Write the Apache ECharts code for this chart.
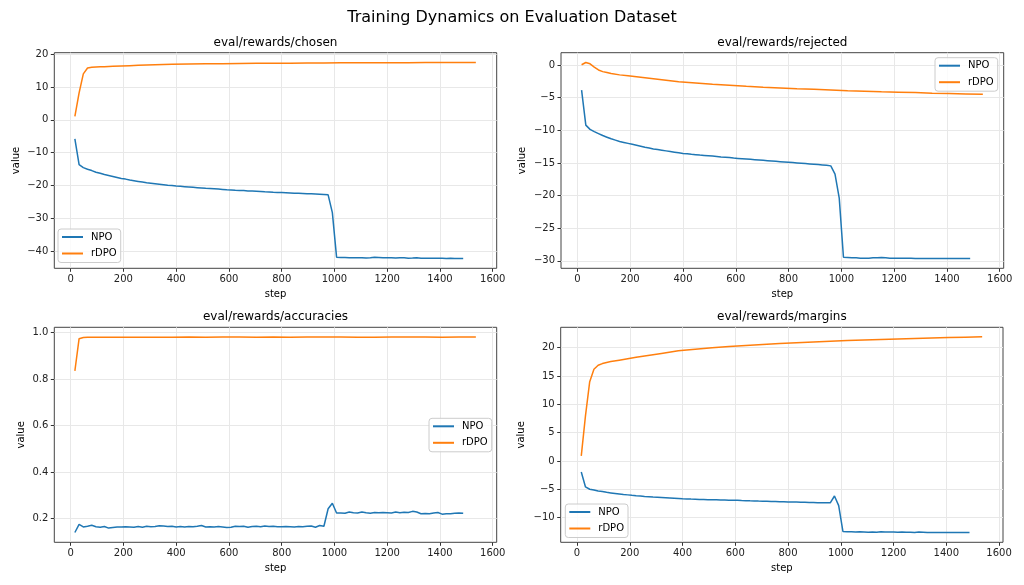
<!DOCTYPE html>
<html><head><meta charset="utf-8">
<script src="https://cdn.jsdelivr.net/npm/echarts@6/dist/echarts.min.js"></script>
<style>html,body{margin:0;padding:0;background:#fff}#c{width:1024px;height:585px}</style>
</head><body><div id="c"></div>
<script>
// ---------------- DATA ----------------
const npoSteps = [16,32,48,64,80,96,112,128,144,160,
176,192,208,224,240,256,272,288,304,320,
336,352,368,384,400,416,432,448,464,480,
496,512,528,544,560,576,592,608,624,640,
656,672,688,704,720,736,752,768,784,800,
816,832,848,864,880,896,912,928,944,960,
976,992,1008,1024,1040,1056,1072,1088,1104,1120,
1136,1152,1168,1184,1200,1216,1232,1248,1264,1280,
1296,1312,1328,1344,1360,1376,1392,1408,1424,1440,
1456,1472,1488];
const rdpoSteps = [16,32,48,64,80,96,112,128,160,192,224,256,320,384,448,512,576,640,704,768,832,896,960,1024,1088,1152,1216,1280,1344,1408,1472,1536];

const npoChosen = [-5.8,-13.7,-14.6,-15.1,-15.5,-16.0,-16.3,-16.7,-17.0,-17.3,
-17.6,-17.9,-18.1,-18.4,-18.6,-18.8,-19.0,-19.2,-19.35,-19.5,
-19.65,-19.8,-19.95,-20.05,-20.2,-20.3,-20.4,-20.5,-20.6,-20.7,
-20.8,-20.9,-20.95,-21.05,-21.15,-21.25,-21.35,-21.4,-21.5,-21.55,
-21.6,-21.7,-21.75,-21.8,-21.85,-21.95,-22.0,-22.1,-22.15,-22.2,
-22.25,-22.3,-22.4,-22.45,-22.5,-22.55,-22.6,-22.65,-22.7,-22.8,
-22.9,-28.3,-41.9,-42.0,-42.0,-42.05,-42.1,-42.1,-42.05,-42.15,
-42.1,-41.95,-42.0,-42.05,-42.1,-42.1,-42.15,-42.1,-42.1,-42.2,
-42.15,-42.05,-42.2,-42.2,-42.25,-42.2,-42.2,-42.25,-42.3,-42.25,
-42.3,-42.3,-42.3];
const rdpoChosen = [1.0,8.2,14.0,15.8,16.0,16.1,16.15,16.2,16.3,16.4,16.5,16.6,16.75,16.9,17.0,17.05,17.1,17.15,17.2,17.25,17.27,17.3,17.33,17.35,17.37,17.39,17.4,17.42,17.43,17.44,17.45,17.46];

const npoRejected = [-3.85,-9.2,-9.85,-10.2,-10.5,-10.8,-11.05,-11.3,-11.5,-11.7,
-11.85,-12.0,-12.15,-12.3,-12.45,-12.6,-12.7,-12.85,-12.95,-13.05,
-13.15,-13.25,-13.35,-13.45,-13.55,-13.6,-13.67,-13.73,-13.8,-13.85,
-13.9,-13.95,-14.0,-14.07,-14.12,-14.18,-14.25,-14.3,-14.35,-14.4,
-14.45,-14.5,-14.55,-14.6,-14.65,-14.7,-14.75,-14.8,-14.85,-14.9,
-14.95,-15.0,-15.05,-15.1,-15.15,-15.2,-15.25,-15.3,-15.35,-15.45,
-16.7,-20.4,-29.45,-29.5,-29.55,-29.55,-29.6,-29.6,-29.6,-29.55,
-29.55,-29.5,-29.55,-29.6,-29.6,-29.6,-29.6,-29.6,-29.6,-29.65,
-29.65,-29.65,-29.65,-29.65,-29.65,-29.65,-29.65,-29.65,-29.65,-29.65,
-29.65,-29.65,-29.65];
const rdpoRejected = [0.05,0.4,0.2,-0.3,-0.75,-1.0,-1.15,-1.3,-1.5,-1.65,-1.8,-1.95,-2.25,-2.55,-2.75,-2.95,-3.1,-3.25,-3.38,-3.5,-3.62,-3.72,-3.82,-3.92,-4.0,-4.08,-4.15,-4.22,-4.3,-4.36,-4.42,-4.47];

const npoAccuracies = [0.14,0.175,0.164,0.167,0.171,0.165,0.163,0.166,0.159,0.162,
0.164,0.164,0.165,0.164,0.163,0.166,0.163,0.167,0.165,0.166,
0.169,0.168,0.166,0.167,0.164,0.166,0.164,0.166,0.165,0.167,
0.170,0.164,0.165,0.164,0.166,0.164,0.162,0.163,0.167,0.166,
0.167,0.163,0.166,0.167,0.165,0.168,0.166,0.167,0.165,0.165,
0.166,0.165,0.164,0.166,0.165,0.167,0.168,0.163,0.170,0.167,
0.242,0.266,0.224,0.224,0.223,0.228,0.225,0.224,0.228,0.225,
0.223,0.226,0.225,0.226,0.225,0.224,0.228,0.225,0.227,0.226,
0.231,0.228,0.221,0.222,0.221,0.224,0.226,0.219,0.221,0.221,
0.223,0.224,0.223];
const rdpoAccuracies = [0.835,0.973,0.978,0.979,0.979,0.979,0.979,0.979,0.979,0.979,0.979,0.979,0.979,0.979,0.98,0.979,0.98,0.98,0.979,0.98,0.979,0.98,0.98,0.98,0.979,0.979,0.98,0.98,0.98,0.979,0.98,0.98];

const npoMargins = [-1.95,-4.6,-5.0,-5.15,-5.3,-5.4,-5.55,-5.65,-5.75,-5.85,
-5.95,-6.0,-6.08,-6.15,-6.2,-6.27,-6.32,-6.38,-6.42,-6.46,
-6.5,-6.55,-6.6,-6.65,-6.7,-6.72,-6.75,-6.77,-6.8,-6.82,
-6.85,-6.86,-6.88,-6.9,-6.91,-6.93,-6.95,-6.97,-7.0,-7.02,
-7.05,-7.07,-7.1,-7.12,-7.14,-7.16,-7.18,-7.2,-7.22,-7.24,
-7.26,-7.28,-7.3,-7.31,-7.33,-7.35,-7.37,-7.38,-7.4,-7.4,
-6.2,-7.9,-12.45,-12.5,-12.5,-12.55,-12.5,-12.55,-12.6,-12.55,
-12.6,-12.5,-12.55,-12.55,-12.55,-12.6,-12.55,-12.6,-12.6,-12.65,
-12.55,-12.6,-12.65,-12.65,-12.65,-12.65,-12.65,-12.65,-12.65,-12.65,
-12.65,-12.65,-12.65];
const rdpoMargins = [0.9,8.0,14.0,16.2,16.9,17.2,17.4,17.55,17.8,18.05,18.3,18.55,19.0,19.45,19.75,20.0,20.2,20.4,20.58,20.75,20.89,21.02,21.15,21.27,21.37,21.47,21.55,21.64,21.73,21.8,21.87,21.93];

const xTickValues = [0,200,400,600,800,1000,1200,1400,1600];
const chosenTicks = [-40,-30,-20,-10,0,10,20];
const rejectedTicks = [-30,-25,-20,-15,-10,-5,0];
const accuracyTicks = [0.2,0.4,0.6,0.8,1.0];
const marginTicks = [-10,-5,0,5,10,15,20];

const seriesNames = ['NPO','rDPO'];
const panelTitles = ['eval/rewards/chosen','eval/rewards/rejected','eval/rewards/accuracies','eval/rewards/margins'];
const suptitle = 'Training Dynamics on Evaluation Dataset';

// ---------------- LAYOUT / STYLE ----------------
const FONT = "'DejaVu Sans', sans-serif";
const COLORS = ['#1f77b4','#ff7f0e'];
const panels = [
  {npo:npoChosen, rdpo:rdpoChosen, ticks:chosenTicks, ymin:-45.3, ymax:20.45, grid:{left:54.3, top:52.7, width:442.4, height:215.6}, nameGap:33, dec:0,
   legend:{left:58, top:229}},
  {npo:npoRejected, rdpo:rdpoRejected, ticks:rejectedTicks, ymin:-31.15, ymax:1.9, grid:{left:561, top:52.7, width:442.7, height:215.6}, nameGap:34, dec:0,
   legend:{left:935, top:57.7}},
  {npo:npoAccuracies, rdpo:rdpoAccuracies, ticks:accuracyTicks, ymin:0.098, ymax:1.022, grid:{left:54.3, top:327.3, width:442.4, height:215}, nameGap:28, dec:1,
   legend:{left:429, top:418.3}},
  {npo:npoMargins, rdpo:rdpoMargins, ticks:marginTicks, ymin:-14.38, ymax:23.61, grid:{left:560.7, top:327.3, width:442.3, height:215}, nameGap:34, dec:0,
   legend:{left:565.3, top:504}}
];

const fmt = (dec) => (v) => (dec ? Number(v).toFixed(dec) : String(Math.round(v))).replace('-', '\u2212');

const grids = [], xAxes = [], yAxes = [], series = [], legends = [], graphics = [];
panels.forEach((p, i) => {
  grids.push(Object.assign({show:true, borderColor:'#444', borderWidth:1, backgroundColor:'transparent', containLabel:false}, p.grid));
  xAxes.push({
    gridIndex:i, type:'value', min:-62, max:1615,
    name:'step', nameLocation:'middle', nameGap:21,
    nameTextStyle:{fontSize:10, color:'#000', fontFamily:FONT},
    axisLine:{show:false, onZero:false},
    axisTick:{show:true, length:3.5, lineStyle:{color:'#333', width:1}, customValues:xTickValues},
    axisLabel:{customValues:xTickValues, fontSize:10, color:'#222', margin:6, fontFamily:FONT, formatter:fmt(0)},
    splitLine:{show:true, lineStyle:{color:'#e8e8e8', width:1}}
  });
  yAxes.push({
    gridIndex:i, type:'value', min:p.ymin, max:p.ymax,
    name:'value', nameLocation:'middle', nameGap:p.nameGap, nameRotate:90,
    nameTextStyle:{fontSize:10, color:'#000', fontFamily:FONT},
    axisLine:{show:false, onZero:false},
    axisTick:{show:true, length:3.5, lineStyle:{color:'#333', width:1}, customValues:p.ticks},
    axisLabel:{customValues:p.ticks, fontSize:10, color:'#222', margin:6, fontFamily:FONT, formatter:fmt(p.dec)},
    splitLine:{show:true, lineStyle:{color:'#e8e8e8', width:1}}
  });
  const sets = [[npoSteps, p.npo], [rdpoSteps, p.rdpo]];
  sets.forEach(([steps, vals], k) => {
    series.push({
      type:'line', name:seriesNames[k], xAxisIndex:i, yAxisIndex:i,
      data: steps.map((s, j) => [s, vals[j]]),
      symbol:'none', showSymbol:false, smooth:false,
      lineStyle:{color:COLORS[k], width:1.5}, itemStyle:{color:COLORS[k]},
      z:3
    });
  });
  legends.push({
    data:seriesNames.map(n => ({name:n, icon:'rect'})), orient:'vertical', left:p.legend.left, top:p.legend.top,
    padding:[3,4,4,4], itemWidth:21, itemHeight:2, itemGap:6.5,
    textStyle:{fontSize:10, color:'#000', fontFamily:FONT, padding:[0,0,0,3]},
    backgroundColor:'rgba(255,255,255,0.8)', borderColor:'#cccccc', borderWidth:1, borderRadius:3,
    selectedMode:false
  });
  const g = p.grid;
  graphics.push({type:'text', x:g.left + g.width/2, y:g.top - 10, style:{text:panelTitles[i], fill:'#000', font:'12px ' + FONT, textAlign:'center', textVerticalAlign:'middle'}});
});
graphics.push({type:'text', x:512, y:18, style:{text:suptitle, fill:'#000', font:'16px ' + FONT, textAlign:'center', textVerticalAlign:'middle'}});

const chart = echarts.init(document.getElementById('c'), null, {renderer:'canvas'});
chart.setOption({
  animation:false, backgroundColor:'#fff',
  grid:grids, xAxis:xAxes, yAxis:yAxes, series:series, legend:legends, graphic:graphics
});
</script></body></html>
